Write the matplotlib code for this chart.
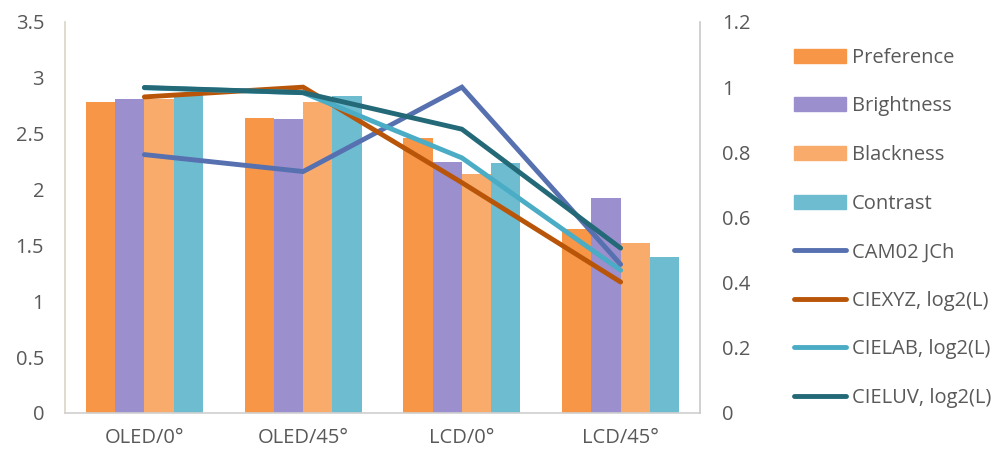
import numpy as np
import matplotlib
matplotlib.use("Agg")
import matplotlib.pyplot as plt
import matplotlib.patches as mpatches
from matplotlib.lines import Line2D

plt.rcParams['font.family'] = ['Open Sans', 'DejaVu Sans']

categories = ["OLED/0°", "OLED/45°", "LCD/0°", "LCD/45°"]

# ratings (left axis)
preference = [2.78, 2.64, 2.46, 1.65]
brightness = [2.81, 2.63, 2.25, 1.92]
blackness = [2.81, 2.78, 2.14, 1.52]
contrast = [2.86, 2.84, 2.24, 1.40]

# model predictions (right axis)
cam02_jch = [0.793, 0.741, 1.0, 0.456]
ciexyz = [0.970, 1.0, 0.707, 0.402]
cielab = [0.998, 0.983, 0.783, 0.438]
cieluv = [0.999, 0.983, 0.871, 0.506]

bar_series = [
    ("Preference", preference, "#F79646"),
    ("Brightness", brightness, "#9B8FCD"),
    ("Blackness", blackness, "#F9AB6B"),
    ("Contrast", contrast, "#6EBCD0"),
]
line_series = [
    ("CAM02 JCh", cam02_jch, "#5670B0"),
    ("CIEXYZ, log2(L)", ciexyz, "#B85508"),
    ("CIELAB, log2(L)", cielab, "#4BACC6"),
    ("CIELUV, log2(L)", cieluv, "#236978"),
]

TXT = "#595959"

fig = plt.figure(figsize=(9.97, 4.58), dpi=100)
ax = fig.add_axes([0.0652, 0.0983, 0.7021 - 0.0652, 0.952 - 0.0983])
ax2 = ax.twinx()

x = np.arange(len(categories))
w = 0.184
for i, (name, vals, c) in enumerate(bar_series):
    ax.bar(x + (i - 1.5) * w, vals, w, color=c, zorder=2)

for name, vals, c in line_series:
    ax2.plot(x, vals, color=c, lw=3.5, solid_capstyle="round",
             solid_joinstyle="miter", zorder=3)

ax.set_xlim(-0.5, 3.5)
ax.set_ylim(0, 3.5)
ax.set_yticks(np.arange(0, 3.51, 0.5))
ax.set_yticklabels(["0", "0.5", "1", "1.5", "2", "2.5", "3", "3.5"])
ax.set_xticks(x)
ax.set_xticklabels(categories)
ax2.set_ylim(0, 1.2)
ax2.set_yticks(np.arange(0, 1.21, 0.2))
ax2.set_yticklabels(["0", "0.2", "0.4", "0.6", "0.8", "1", "1.2"])

for a in (ax, ax2):
    a.tick_params(length=0, labelsize=14.5, colors=TXT)
    a.spines["top"].set_visible(False)
ax.tick_params(axis="y", pad=15)
ax.tick_params(axis="x", pad=11)
ax2.tick_params(axis="y", pad=16)
ax.spines["left"].set_color("#D9D6C4")
ax.spines["bottom"].set_color("#D0D0D0")
ax.spines["right"].set_visible(False)
ax2.spines["left"].set_visible(False)
ax2.spines["bottom"].set_visible(False)
ax2.spines["right"].set_color("#C8C8C8")
for a in (ax, ax2):
    for s in a.spines.values():
        s.set_linewidth(1.2)
ax2.set_zorder(ax.get_zorder() + 1)
ax2.patch.set_visible(False)

handles = [mpatches.Patch(color=c, label=n) for n, _, c in bar_series]
handles += [Line2D([], [], color=c, lw=3.5, solid_capstyle="round", label=n)
            for n, _, c in line_series]
fig.legend(handles=handles, loc="upper left", bbox_to_anchor=(0.778, 0.935),
           frameon=False, fontsize=14.5, labelcolor=TXT, handlelength=2.6,
           handleheight=0.7, handletextpad=0.3, labelspacing=1.42)

fig.savefig("out.png", dpi=100)
